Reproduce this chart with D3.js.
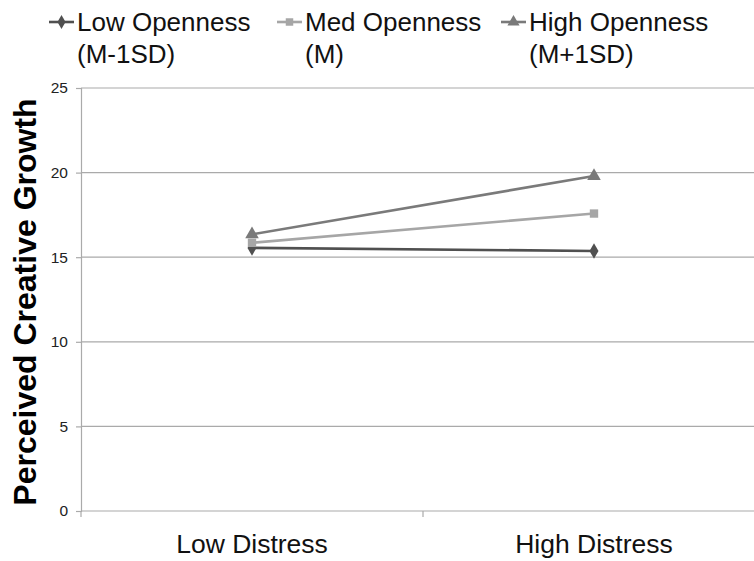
<!DOCTYPE html>
<html>
<head>
<meta charset="utf-8">
<script src="https://cdn.jsdelivr.net/npm/d3@7"></script>
<style>
  html, body { margin: 0; padding: 0; background: #fff; }
  svg { display: block; font-family: Arial, "Liberation Sans", sans-serif; }
</style>
</head>
<body>
<svg id="chart" width="754" height="561"></svg>
<script>
const categories = ["Low Distress", "High Distress"];
const seriesNames = [["Low Openness", "(M-1SD)"], ["Med Openness", "(M)"], ["High Openness", "(M+1SD)"]];
const lowOpenness = [15.55, 15.37];
const medOpenness = [15.85, 17.58];
const highOpenness = [16.35, 19.8];
const yTicks = [0, 5, 10, 15, 20, 25];
const yTitle = "Perceived Creative Growth";

const seriesValues = [lowOpenness, medOpenness, highOpenness];
const colors = ["#505050", "#a6a6a6", "#7a7a7a"];
const symbols = [d3.symbolDiamond, d3.symbolSquare, d3.symbolTriangle];
const symSizes = [70, 70, 80];

const svg = d3.select("#chart");
const pLeft = 81, pRight = 765, pTop = 88, pBottom = 511;

const x = d3.scalePoint().domain(categories).range([pLeft, pRight]).padding(0.5);
const y = d3.scaleLinear().domain([0, 25]).range([pBottom, pTop]);

// gridlines
svg.append("g").selectAll("line").data(yTicks.filter(t => t > 0)).join("line")
  .attr("x1", pLeft).attr("x2", 754)
  .attr("y1", d => y(d)).attr("y2", d => y(d))
  .attr("stroke", "#aaaaaa").attr("stroke-width", 1.2);

// y axis
const yAxis = svg.append("g").attr("transform", `translate(${pLeft},0)`)
  .call(d3.axisLeft(y).tickValues(yTicks).tickSize(5).tickPadding(8));
yAxis.select(".domain").attr("stroke", "#aaaaaa").attr("stroke-width", 1.2);
yAxis.selectAll(".tick line").attr("stroke", "#aaaaaa").attr("stroke-width", 1.2);
yAxis.selectAll(".tick text").attr("font-size", 15.5).attr("fill", "#222")
  .attr("font-family", "Arial, 'Liberation Sans', sans-serif");

// x axis
const xb = d3.scaleLinear().domain([0, 2]).range([pLeft, pRight]);
svg.append("line").attr("x1", pLeft).attr("x2", 754).attr("y1", pBottom).attr("y2", pBottom)
  .attr("stroke", "#aaaaaa").attr("stroke-width", 1.2);
svg.append("g").selectAll("line").data([0, 1]).join("line")
  .attr("x1", d => xb(d)).attr("x2", d => xb(d))
  .attr("y1", pBottom).attr("y2", pBottom + 6)
  .attr("stroke", "#aaaaaa").attr("stroke-width", 1.2);
svg.append("g").selectAll("text").data(categories).join("text")
  .attr("x", d => x(d)).attr("y", 553)
  .attr("text-anchor", "middle").attr("font-size", 26.5).attr("fill", "#111")
  .text(d => d);

// y title
svg.append("text")
  .attr("transform", `translate(36,302) rotate(-90)`)
  .attr("text-anchor", "middle").attr("font-size", 32).attr("font-weight", "bold")
  .attr("fill", "#000").text(yTitle);

// lines
const line = d3.line().x((d, i) => x(categories[i])).y(d => y(d));
seriesValues.forEach((vals, s) => {
  svg.append("path").datum(vals).attr("d", line)
    .attr("fill", "none").attr("stroke", colors[s]).attr("stroke-width", 2.6);
  svg.append("g").selectAll("path").data(vals).join("path")
    .attr("transform", (d, i) => `translate(${x(categories[i])},${y(d)})`)
    .attr("d", d3.symbol().type(symbols[s]).size(symSizes[s]))
    .attr("fill", colors[s]);
});

// legend
const legendX = [49, 277, 501];
seriesNames.forEach((nm, s) => {
  const g = svg.append("g").attr("transform", `translate(${legendX[s]},0)`);
  g.append("line").attr("x1", 0).attr("x2", 25).attr("y1", 22).attr("y2", 22)
    .attr("stroke", colors[s]).attr("stroke-width", 2.6);
  g.append("path").attr("transform", "translate(12.5,22)")
    .attr("d", d3.symbol().type(symbols[s]).size(symSizes[s] * 0.8)).attr("fill", colors[s]);
  g.append("text").attr("x", 28).attr("y", 31).attr("font-size", 26).attr("fill", "#111").text(nm[0]);
  g.append("text").attr("x", 28).attr("y", 63).attr("font-size", 26).attr("fill", "#111").text(nm[1]);
});
</script>
</body>
</html>
